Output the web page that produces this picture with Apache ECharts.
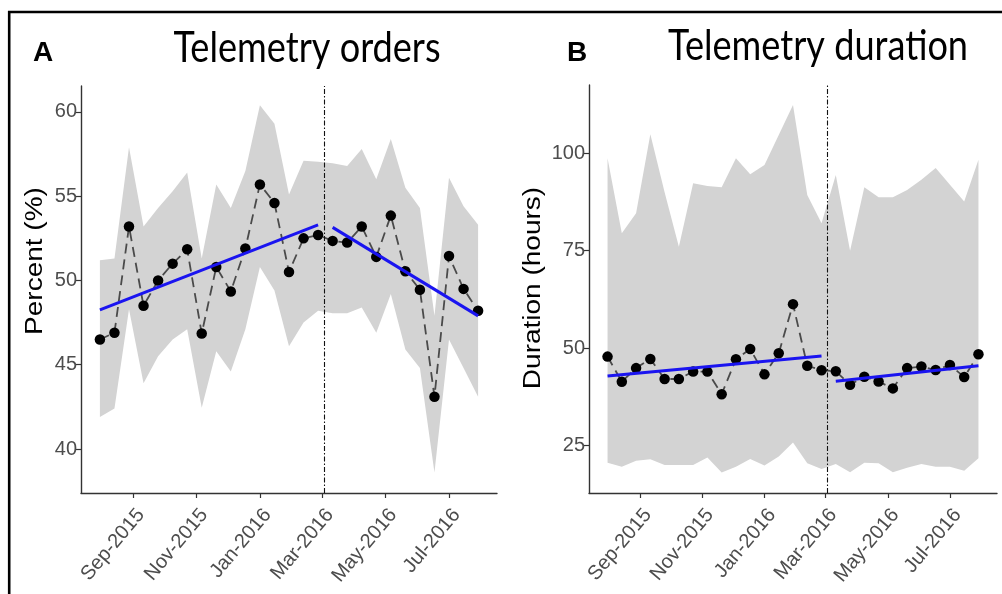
<!DOCTYPE html>
<html><head><meta charset="utf-8">
<script src="https://cdn.jsdelivr.net/npm/echarts@6/dist/echarts.min.js"></script>
<style>html,body{margin:0;padding:0;background:#fff}#c{width:1002px;height:594px}</style>
</head><body><div id="c"></div>
<script>
// ---- data ----
const dates = ['2015-07-31','2015-08-14','2015-08-28','2015-09-11','2015-09-25','2015-10-09','2015-10-23','2015-11-06','2015-11-20','2015-12-04','2015-12-18','2016-01-01','2016-01-15','2016-01-29','2016-02-12','2016-02-26','2016-03-11','2016-03-25','2016-04-08','2016-04-22','2016-05-06','2016-05-20','2016-06-03','2016-06-17','2016-07-01','2016-07-15','2016-07-29'];
const interventionDate = '2016-03-03';
const tickDates = ['2015-09-01','2015-11-01','2016-01-01','2016-03-01','2016-05-01','2016-07-01'];
const tickLabels = ['Sep-2015','Nov-2015','Jan-2016','Mar-2016','May-2016','Jul-2016'];

const ordersPct   = [46.5, 46.9, 53.2, 48.5, 50.0, 51.0, 51.85, 46.85, 50.8, 49.35, 51.9, 55.7, 54.6, 50.5, 52.5, 52.7, 52.35, 52.25, 53.2, 51.4, 53.85, 50.55, 49.45, 43.1, 51.45, 49.5, 48.2];
const ordersUpper = [51.2, 51.3, 57.9, 53.2, 54.3, 55.3, 56.4, 51.3, 55.7, 54.3, 56.5, 60.4, 59.3, 55.1, 57.1, 57.05, 56.95, 56.8, 57.8, 56.0, 58.4, 55.5, 54.3, 47.9, 56.1, 54.4, 53.3];
const ordersLower = [41.9, 42.4, 48.3, 43.9, 45.5, 46.5, 47.1, 42.45, 45.8, 44.6, 47.1, 50.8, 49.4, 46.1, 47.5, 48.2, 48.05, 48.05, 48.4, 46.9, 49.2, 45.9, 44.8, 38.6, 46.5, 44.8, 43.1];
const ordersTrendPre  = [48.25, 53.3];
const ordersTrendPost = [53.15, 47.9];
const ordersTicks = [40, 45, 50, 55, 60];

const durHours = [47.85, 41.4, 44.9, 47.25, 42.1, 42.1, 44.0, 44.0, 38.2, 47.2, 49.8, 43.3, 48.7, 61.3, 45.5, 44.35, 44.1, 40.6, 42.7, 41.45, 39.7, 44.9, 45.3, 44.4, 45.7, 42.6, 48.45];
const durUpper = [98.7, 79.5, 84.6, 104.9, 90.0, 76.05, 92.3, 91.6, 91.3, 98.7, 94.6, 97.0, 104.7, 112.4, 89.3, 82.05, 94.4, 75.0, 91.3, 88.7, 88.7, 90.6, 93.2, 96.2, 91.9, 87.6, 98.3];
const durLower = [20.6, 19.6, 21.15, 21.5, 20.05, 20.05, 20.05, 22.0, 18.1, 19.6, 21.6, 19.9, 22.2, 25.8, 20.5, 19.0, 20.3, 18.2, 20.6, 20.5, 18.2, 19.35, 20.3, 19.6, 19.6, 18.6, 21.8];
const durTrendPre  = [42.9, 48.0];
const durTrendPost = [41.5, 45.5];
const durTicks = [25, 50, 75, 100];

// ---- build ----
const P = s => { const [y,m,d] = s.split('-').map(Number); return Date.UTC(y, m-1, d); };
const t = dates.map(P);
const tickT = tickDates.map(P);
const span = t[t.length-1] - t[0];
const xMin = t[0] - 0.05*span, xMax = t[t.length-1] + 0.05*span;
const breakIdx = dates.findIndex(d => d > interventionDate);

function xAxisFor(gi){
  return {
    type:'value', gridIndex: gi, min: xMin, max: xMax,
    splitLine:{show:false},
    axisLine:{show:true, lineStyle:{color:'#333', width:1.4}},
    axisTick:{show:true, customValues: tickT, length:5, lineStyle:{color:'#333', width:1.2}},
    axisLabel:{show:true, customValues: tickT, rotate:50, margin:12, color:'#4d4d4d',
      fontFamily:'Liberation Sans', fontSize:20, verticalAlign:'top',
      formatter: v => { const i = tickT.indexOf(v); return i >= 0 ? tickLabels[i] : ''; }}
  };
}
function yAxisFor(gi, mn, mx, ticks){
  return {
    type:'value', gridIndex: gi, min: mn, max: mx,
    splitLine:{show:false},
    axisLine:{show:true, lineStyle:{color:'#333', width:1.4}},
    axisTick:{show:true, customValues: ticks, length:5, lineStyle:{color:'#333', width:1.2}},
    axisLabel:{show:true, customValues: ticks, margin:4, color:'#4d4d4d',
      fontFamily:'Liberation Sans', fontSize:20}
  };
}
function panelSeries(gi, vals, up, lo, pre, post){
  const ax = {xAxisIndex: gi, yAxisIndex: gi};
  return [
    Object.assign({type:'custom', silent:true, clip:true, z:1,
      data: t.map((x,i)=>[x, lo[i], up[i]]),
      encode:{x:0, y:[1,2]},
      renderItem:(params, api) => {
        if (params.dataIndex !== 0) return null;
        const top = t.map((x,i)=>api.coord([x, up[i]]));
        const bot = t.map((x,i)=>api.coord([x, lo[i]])).reverse();
        return {type:'polygon', shape:{points: top.concat(bot)}, style:{fill:'#d3d3d3'}};
      }}, ax),
    Object.assign({type:'line', symbol:'circle', symbolSize:10.5,
      itemStyle:{color:'#000'},
      lineStyle:{color:'#4a4a4a', width:1.8, type:[10,6]},
      data: t.map((x,i)=>[x, vals[i]]), z:3,
      markLine:{silent:true, symbol:'none', label:{show:false},
        lineStyle:{color:'#111', width:1.1, type:[5,2,1.5,2]},
        data:[{xAxis: P(interventionDate)}]}}, ax),
    Object.assign({type:'line', symbol:'none', lineStyle:{color:'#1a14f0', width:3},
      data:[[t[0], pre[0]],[t[breakIdx-1], pre[1]]], z:4}, ax),
    Object.assign({type:'line', symbol:'none', lineStyle:{color:'#1a14f0', width:3},
      data:[[t[breakIdx], post[0]],[t[t.length-1], post[1]]], z:4}, ax)
  ];
}

const chart = echarts.init(document.getElementById('c'));
chart.setOption({
  animation:false,
  backgroundColor:'#fff',
  grid:[{left:81, top:86, right:505, bottom:101}, {left:589, top:85, right:5, bottom:101}],
  xAxis:[xAxisFor(0), xAxisFor(1)],
  yAxis:[yAxisFor(0, 37.39, 61.54, ordersTicks), yAxisFor(1, 12.87, 117.5, durTicks)],
  series:[].concat(
    panelSeries(0, ordersPct, ordersUpper, ordersLower, ordersTrendPre, ordersTrendPost),
    panelSeries(1, durHours, durUpper, durLower, durTrendPre, durTrendPost)
  ),
  graphic:[
    {type:'rect', silent:true, shape:{x:9.2, y:12, width:1200, height:800},
      style:{fill:'none', stroke:'#000', lineWidth:2.6}},
    {type:'text', x:43, y:53, style:{text:'A', font:'bold 28px "Liberation Sans"', fill:'#000', align:'center', verticalAlign:'middle'}},
    {type:'text', x:577, y:53, style:{text:'B', font:'bold 28px "Liberation Sans"', fill:'#000', align:'center', verticalAlign:'middle'}},
    {type:'text', x:307, y:48, scaleX:0.86, style:{text:'Telemetry orders', font:'42px Lato', fill:'#000', align:'center', verticalAlign:'middle'}},
    {type:'text', x:818, y:46, scaleX:0.86, style:{text:'Telemetry duration', font:'42px Lato', fill:'#000', align:'center', verticalAlign:'middle'}},
    {type:'text', x:35, y:261, rotation:Math.PI/2, scaleY:0.85, style:{text:'Percent (%)', font:'28px "Liberation Sans"', fill:'#000', align:'center', verticalAlign:'middle'}},
    {type:'text', x:533, y:288, rotation:Math.PI/2, scaleY:0.85, style:{text:'Duration (hours)', font:'28px "Liberation Sans"', fill:'#000', align:'center', verticalAlign:'middle'}}
  ]
});
</script></body></html>
